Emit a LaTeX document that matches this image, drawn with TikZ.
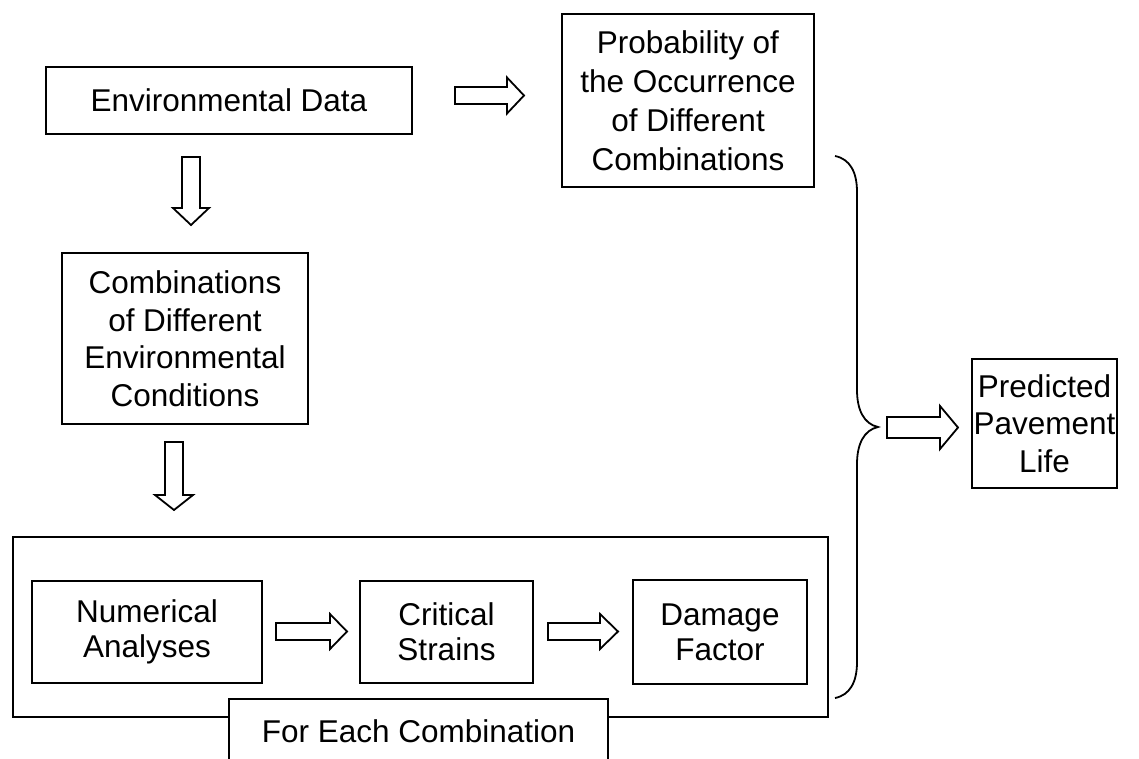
\documentclass[tikz,border=0pt]{standalone}
\usepackage{fontspec}
\setmainfont{Liberation Sans}
\newcommand{\harrowR}[6]{\draw[blockarrow] (#1,#4-#5) -- (#3,#4-#5) -- (#3,#4-#6) -- (#2,#4) -- (#3,#4+#6) -- (#3,#4+#5) -- (#1,#4+#5) -- cycle;}
\newcommand{\harrowD}[6]{\draw[blockarrow] (#1-#5,#2) -- (#1+#5,#2) -- (#1+#5,#4) -- (#1+#6,#4) -- (#1,#3) -- (#1-#6,#4) -- (#1-#5,#4) -- cycle;}
\begin{document}
\begin{tikzpicture}[x=1pt,y=-1pt,
  box/.style={draw, line width=1.8pt, align=center, inner sep=0pt,
    font=\fontsize{31.5}{37.5}\selectfont},
  tight/.style={font=\fontsize{31.5}{35}\selectfont},
  loose/.style={font=\fontsize{31.5}{39}\selectfont},
  blockarrow/.style={draw, line width=1.8pt, line join=miter},
  frame/.style={draw, line width=1.8pt}]
\useasboundingbox (0,0) rectangle (1139,758);
\fill[white] (0,0) rectangle (1139,758);

\node[box, minimum width=366, minimum height=67] (env) at (229,100.5) {Environmental Data};
\node[box, loose, minimum width=252, minimum height=173] (prob) at (688,100.5) {Probability of\\the Occurrence\\of Different\\Combinations};
\node[box, minimum width=246, minimum height=171] (comb) at (185,338.5) {Combinations\\of Different\\Environmental\\Conditions};
\node[box, minimum width=145, minimum height=129] (pred) at (1044.5,423.5) {Predicted\\Pavement\\Life};

\draw[frame] (13,537) rectangle (828,717);
\node[box, tight, minimum width=230, minimum height=102] (num) at (147,632) {Numerical\\Analyses};
\node[box, tight, minimum width=173, minimum height=102] (crit) at (446.5,632) {Critical\\Strains};
\node[box, tight, minimum width=174, minimum height=104] (dmg) at (720,632) {Damage\\Factor};
\node[box, fill=white, minimum width=379, minimum height=65] (each) at (418.5,731.5) {For Each Combination};

% block arrows
\harrowR{455}{524}{507}{95.5}{8.5}{18}
\harrowD{191}{157}{225}{208}{9}{18}
\harrowD{174}{442}{510}{495}{9}{19}
\harrowR{276}{347}{330}{631.5}{8.5}{17.5}
\harrowR{548}{618}{600}{631.5}{8.5}{17.5}
\harrowR{887}{958}{940}{427.5}{10.5}{21.5}

% brace
\draw[line width=1.8pt] (835,156) .. controls (850,159) and (857,172) .. (857,192)
  -- (857,390) .. controls (857,410) and (864,424) .. (878,427)
  .. controls (864,430) and (857,444) .. (857,464)
  -- (857,662) .. controls (857,682) and (850,695) .. (835,698);
\end{tikzpicture}
\end{document}
